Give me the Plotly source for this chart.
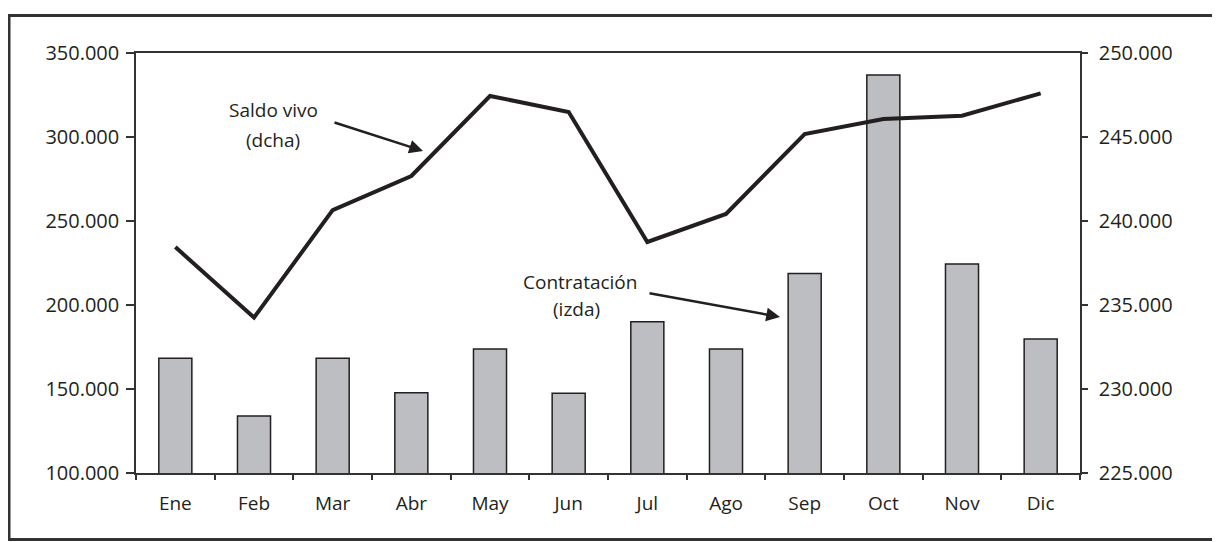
import plotly.graph_objects as go

# ---- data ----
months = ["Ene", "Feb", "Mar", "Abr", "May", "Jun", "Jul", "Ago", "Sep", "Oct", "Nov", "Dic"]
contratacion = [168300, 133900, 168300, 147800, 173800, 147400, 190100, 173800, 218700, 336900, 224400, 179800]
saldo_vivo = [238450, 234250, 240650, 242680, 247440, 246490, 238750, 240420, 245180, 246070, 246270, 247600]
left_range = [100000, 350000]
right_range = [225000, 250000]
left_step = 50000
right_step = 5000

# page body has an 8px margin: build the figure 8px smaller and shift everything
OFF = 8
W, H = 1220 - OFF, 542 - OFF
L, R, T, B = 136 - OFF, 1080 - OFF, 53 - OFF, 473 - OFF  # plot area pixels (figure coords)
pw, ph = R - L, B - T

def px(x):
    return (x - OFF - L) / pw

def py(y):
    return (B - (y - OFF)) / ph

INK = "#231f20"
TXT = "#231f20"
FONT = "Open Sans"
FS = 19
FSN = 20

fig = go.Figure()
fig.add_trace(go.Bar(
    x=months, y=contratacion, width=0.42,
    marker=dict(color="#bdbec2", line=dict(color=INK, width=1.5)),
    yaxis="y", xaxis="x", showlegend=False,
))
fig.add_trace(go.Scatter(
    x=months, y=saldo_vivo, mode="lines",
    line=dict(color=INK, width=4),
    yaxis="y2", xaxis="x", showlegend=False,
))

n = len(months)
boundaries = [i - 0.5 for i in range(n + 1)]

axis_common = dict(showgrid=False, zeroline=False, linecolor="#333333", linewidth=1.5,
                   tickcolor="#333333", tickwidth=1.5)

fig.update_layout(
    width=W, height=H,
    margin=dict(l=L, r=W - R, t=T, b=H - B),
    paper_bgcolor="white", plot_bgcolor="white",
    separators=",.",
    xaxis=dict(**axis_common, type="category", showline=True, mirror=True,
               ticks="outside", ticklen=5, tickson="boundaries",
               tickfont=dict(family=FONT, size=FS, color=TXT),
               ticklabelstandoff=12, range=[-0.5, n - 0.5]),
    xaxis2=dict(overlaying="x", anchor="y", side="bottom", range=[-0.5, n - 0.5],
                tickmode="array", tickvals=boundaries, ticks="inside", ticklen=8,
                tickcolor="#333333", tickwidth=1.5, showticklabels=False,
                showline=False, showgrid=False, zeroline=False),
    yaxis=dict(**axis_common, range=left_range, dtick=left_step, tick0=left_range[0],
               tickfont=dict(family=FONT, size=FSN, color=TXT),
               tickformat=",.0f", showline=True, ticks="outside", ticklen=8,
               ticklabelstandoff=3),
    yaxis2=dict(**axis_common, range=right_range, dtick=right_step, tick0=right_range[0],
                tickfont=dict(family=FONT, size=FSN, color=TXT),
                tickformat=",.0f", overlaying="y", side="right", anchor="x",
                showline=True, ticks="outside", ticklen=6, ticklabelstandoff=7),
    yaxis3=dict(overlaying="y", anchor="x", side="left", range=left_range, dtick=left_step,
                tick0=left_range[0], ticks="inside", ticklen=5, tickcolor="#333333",
                tickwidth=1.5, showticklabels=False, showline=False, showgrid=False,
                zeroline=False),
    yaxis4=dict(overlaying="y", anchor="x", side="right", range=right_range, dtick=right_step,
                tick0=right_range[0], ticks="inside", ticklen=6, tickcolor="#333333",
                tickwidth=1.5, showticklabels=False, showline=False, showgrid=False,
                zeroline=False),
)

# frame and shadow (reference pixel coordinates)
fig.add_shape(type="rect", xref="paper", yref="paper",
              x0=px(1215.5), x1=px(1221), y0=py(543), y1=py(20),
              fillcolor="#c4c4c4", line=dict(width=0), layer="below")
fig.add_shape(type="rect", xref="paper", yref="paper",
              x0=px(9), x1=px(1213.5), y0=py(539.5), y1=py(15.5),
              line=dict(color="#333333", width=3), fillcolor="rgba(0,0,0,0)")

def label(text, x, y):
    fig.add_annotation(text=text, xref="paper", yref="paper", x=px(x), y=py(y),
                       showarrow=False, xanchor="center", yanchor="middle",
                       font=dict(family=FONT, size=FS, color=TXT))

def arrow(x0, y0, x1, y1):
    fig.add_annotation(text="", xref="paper", yref="paper", x=px(x1), y=py(y1),
                       ax=x0 - x1, ay=y0 - y1, showarrow=True, arrowhead=2,
                       arrowsize=1.1, arrowwidth=2.5, arrowcolor=INK, standoff=0)

label("Saldo vivo", 273, 110)
label("(dcha)", 273, 140)
arrow(333, 122, 423, 151)
label("Contratación", 580, 282)
label("(izda)", 576, 309)
arrow(648, 293, 780, 317)

fig.write_html("out.html")
